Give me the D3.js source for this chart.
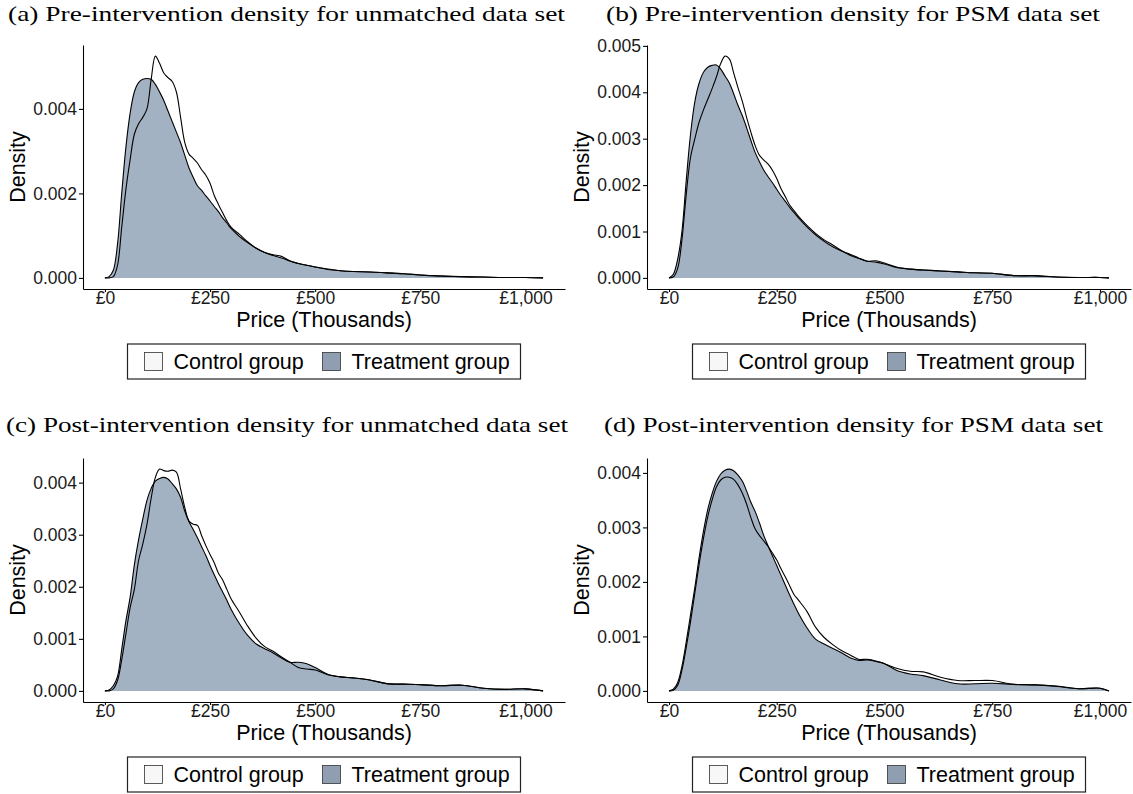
<!DOCTYPE html>
<html>
<head>
<meta charset="utf-8">
<script src="https://cdn.jsdelivr.net/npm/d3@7"></script>
<style>
  body { margin: 0; background: #fff; }
  .tick text { font-family: "Liberation Sans", Arial, sans-serif; font-size: 17.5px; fill: #1a1a1a; }
  .tick line, .domain { stroke: #000; stroke-width: 1.07; }
  .axis-title, .legend-label { font-family: "Liberation Sans", Arial, sans-serif; font-size: 21.5px; fill: #000; }
  .panel-title { font-family: "Liberation Serif", "Times New Roman", serif; font-size: 21px; fill: #000; }
</style>
</head>
<body>
<svg width="1133" height="794"></svg>
<script>
// price grid in thousands of pounds, shared by every density curve
const priceGrid = [0,10,20,30,40,50,60,70,80,90,100,110,120,130,140,150,160,170,180,190,
  200,210,220,230,240,250,260,270,280,290,300,320,340,360,380,400,420,440,460,480,500,
  530,560,590,630,670,710,750,800,850,900,950,1000]
// price where each panel's curves come back to zero
const curveEnd = [1042, 1021, 1042, 1021]

const panelTitles = [
  '(a) Pre-intervention density for unmatched data set',
  '(b) Pre-intervention density for PSM data set',
  '(c) Post-intervention density for unmatched data set',
  '(d) Post-intervention density for PSM data set'
]
const groupNames = ['Control group', 'Treatment group']
const xTicks = [0, 250, 500, 750, 1000]
const yTicksA = [0, 0.002, 0.004]
const yTicksB = [0, 0.001, 0.002, 0.003, 0.004, 0.005]
const yTicksC = [0, 0.001, 0.002, 0.003, 0.004]
const yTicksD = [0, 0.001, 0.002, 0.003, 0.004]

const preUnmatchedControl = [0,0,0.00003,0.0003,0.0012,0.0021,0.0028,0.0034,0.00365,0.0038,
  0.004,0.0047,0.00525,0.00508,0.00485,0.00474,0.00465,0.0044,0.0038,0.0032,
  0.00293,0.00283,0.00272,0.00256,0.00243,0.00224,0.00195,0.00174,0.00154,0.00135,
  0.0012,0.00103,0.00085,0.0007,0.0006,0.00055,0.00051,0.0004,0.00034,0.0003,0.00026,
  0.00021,0.00017,0.00015,0.00014,0.00012,0.0001,0.00007,0.00004,0.00003,0.00002,0.00001,0.00001]
const preUnmatchedTreatment = [0,0.00003,0.00018,0.0008,0.002,0.0031,0.0039,0.0044,0.00462,0.0047,
  0.00472,0.0047,0.00458,0.0044,0.0042,0.00395,0.0037,0.00345,0.0032,0.0029,
  0.0026,0.00238,0.00218,0.00207,0.00194,0.00182,0.00169,0.00157,0.00142,0.0013,
  0.00117,0.00098,0.00083,0.0007,0.0006,0.00053,0.00047,0.0004,0.00034,0.0003,0.00026,
  0.0002,0.00017,0.00015,0.00014,0.00012,0.0001,0.00007,0.00005,0.00003,0.00002,0.00001,0.00001]

const prePsmControl = [0,0.00002,0.0002,0.00082,0.0018,0.0026,0.003,0.00336,0.00362,0.00385,
  0.00408,0.00433,0.00462,0.00478,0.00472,0.00442,0.0041,0.00381,0.00346,0.00314,
  0.00285,0.00264,0.00254,0.00245,0.00232,0.00214,0.00192,0.00175,0.00157,0.00145,
  0.00133,0.00113,0.00096,0.00082,0.00071,0.00059,0.00049,0.00042,0.00036,0.00037,0.00032,
  0.00023,0.00019,0.00017,0.00015,0.00013,0.00011,0.0001,0.00005,0.00004,0.00002,0.00001,0.00001]
const prePsmTreatment = [0,0.00008,0.0004,0.001,0.0021,0.0031,0.0038,0.0042,0.00443,0.00454,
  0.00458,0.00459,0.0045,0.00435,0.0042,0.00397,0.00372,0.0035,0.00324,0.00296,
  0.0027,0.0025,0.00232,0.00218,0.00205,0.00191,0.00177,0.00165,0.00152,0.00141,
  0.0013,0.0011,0.00093,0.00079,0.00067,0.00058,0.00051,0.00043,0.00036,0.00034,0.0003,
  0.00022,0.00019,0.00017,0.00015,0.00013,0.00011,0.0001,0.00005,0.00005,0.00002,0.00001,0.00001]

const postUnmatchedControl = [0,0,0.00004,0.0002,0.0006,0.0011,0.0016,0.00195,0.0025,0.00282,
  0.0032,0.0037,0.0041,0.00426,0.00423,0.00422,0.00424,0.0042,0.00388,0.00352,
  0.00326,0.0032,0.00318,0.00298,0.00279,0.00262,0.00246,0.00226,0.00213,0.00195,
  0.00177,0.00151,0.00124,0.00101,0.00085,0.00076,0.00065,0.00055,0.00045,0.00042,0.0004,
  0.00031,0.00027,0.00025,0.00021,0.00014,0.00013,0.00012,0.0001,0.00011,0.00005,0.00003,0.00004]
const postUnmatchedTreatment = [0,0.00002,0.0001,0.00028,0.0008,0.00135,0.0018,0.00242,0.0029,0.0033,
  0.00366,0.00389,0.00403,0.00408,0.0041,0.00407,0.00398,0.00388,0.00372,0.00345,
  0.00325,0.0031,0.00294,0.00277,0.0026,0.00241,0.00223,0.00206,0.0019,0.00174,
  0.00157,0.00129,0.00106,0.0009,0.00081,0.00073,0.00063,0.00055,0.00055,0.00052,0.00045,
  0.00032,0.00027,0.00025,0.00021,0.00014,0.00013,0.00012,0.0001,0.00011,0.00005,0.00003,0.00004]

const postPsmControl = [0,0.00001,0.0001,0.00038,0.0008,0.00127,0.0018,0.00233,0.0028,0.0032,
  0.0035,0.00374,0.00387,0.00392,0.00392,0.00388,0.00378,0.00363,0.00343,0.00318,
  0.00297,0.00285,0.00275,0.00265,0.00253,0.0024,0.00224,0.00209,0.00193,0.00177,
  0.00167,0.00146,0.00117,0.00098,0.00085,0.00074,0.00066,0.00058,0.00058,0.00055,0.0005,
  0.00041,0.00036,0.00035,0.00025,0.00019,0.00019,0.00019,0.00012,0.00011,0.00009,0.00004,0.00005]
const postPsmTreatment = [0,0.00003,0.00015,0.00045,0.0009,0.0014,0.0019,0.00245,0.00293,0.00333,
  0.00362,0.00384,0.00398,0.00405,0.00407,0.00404,0.00396,0.00385,0.00367,0.00346,
  0.00329,0.00308,0.00285,0.00266,0.00248,0.0023,0.00212,0.00194,0.00176,0.00159,
  0.00143,0.00116,0.00095,0.00086,0.00078,0.0007,0.00061,0.00056,0.00057,0.00054,0.0005,
  0.00037,0.00031,0.00028,0.0002,0.00013,0.00013,0.00014,0.00012,0.00011,0.00008,0.00004,0.00005]

const controlSeries = [preUnmatchedControl, prePsmControl, postUnmatchedControl, postPsmControl]
const treatmentSeries = [preUnmatchedTreatment, prePsmTreatment, postUnmatchedTreatment, postPsmTreatment]
const yTickSets = [yTicksA, yTicksB, yTicksC, yTicksD]

// layout of the 2x2 grid (plot area of each panel)
const boxes = [
  { left: 83, top: 45, width: 482, height: 244, titleX: 8, titleY: 21, titleW: 557 },
  { left: 647, top: 45, width: 484, height: 244, titleX: 606, titleY: 21, titleW: 494 },
  { left: 83, top: 458, width: 482, height: 244, titleX: 6, titleY: 432, titleW: 562 },
  { left: 647, top: 458, width: 484, height: 244, titleX: 604, titleY: 432, titleW: 499 }
]

const treatFill = '#a3b2c2'
const svg = d3.select('svg')

const toPoints = (series, end) =>
  priceGrid.map((p, i) => [p, series[i]]).concat([[end, 0]])

boxes.forEach((b, i) => {
  const control = toPoints(controlSeries[i], curveEnd[i])
  const treat = toPoints(treatmentSeries[i], curveEnd[i])
  const xMax = curveEnd[i]
  const yMax = d3.max(control.concat(treat), d => d[1])

  const x = d3.scaleLinear()
    .domain([-0.05 * xMax, 1.05 * xMax])
    .range([0, b.width])
  const y = d3.scaleLinear()
    .domain([-0.05 * yMax, 1.05 * yMax])
    .range([b.height, 0])

  svg.append('text')
    .attr('class', 'panel-title')
    .attr('x', b.titleX)
    .attr('y', b.titleY)
    .attr('textLength', b.titleW)
    .attr('lengthAdjust', 'spacingAndGlyphs')
    .text(panelTitles[i])

  const g = svg.append('g')
    .attr('transform', `translate(${b.left},${b.top})`)

  const curve = d3.curveCatmullRom.alpha(0.5)
  const area = d3.area()
    .x(d => x(d[0]))
    .y0(y(0))
    .y1(d => y(Math.max(0, d[1])))
    .curve(curve)
  const line = d3.line()
    .x(d => x(d[0]))
    .y(d => y(d[1]))
    .curve(curve)

  g.append('path').attr('d', area(control)).attr('fill', '#ffffff')
  g.append('path').attr('d', area(treat)).attr('fill', treatFill)
  g.append('path').attr('d', line(control))
    .attr('fill', 'none').attr('stroke', '#000').attr('stroke-width', 1.1)
  g.append('path').attr('d', line(treat))
    .attr('fill', 'none').attr('stroke', '#000').attr('stroke-width', 1.1)

  g.append('g')
    .attr('transform', `translate(0,${b.height})`)
    .call(d3.axisBottom(x)
      .tickValues(xTicks)
      .tickFormat(d => '£' + d3.format(',')(d))
      .tickSize(3)
      .tickSizeOuter(0)
      .tickPadding(0))

  g.append('g')
    .call(d3.axisLeft(y)
      .tickValues(yTickSets[i])
      .tickFormat(d3.format('.3f'))
      .tickSize(4)
      .tickSizeOuter(0)
      .tickPadding(2))

  g.append('text')
    .attr('class', 'axis-title')
    .attr('text-anchor', 'middle')
    .attr('x', b.width / 2)
    .attr('y', b.height + 38)
    .text('Price (Thousands)')

  g.append('text')
    .attr('class', 'axis-title')
    .attr('text-anchor', 'middle')
    .attr('transform', `translate(-58,${b.height / 2}) rotate(-90)`)
    .text('Density')

  // legend under the panel
  const lg = g.append('g')
    .attr('transform', `translate(${b.width / 2 - 196.5},${b.height + 55})`)
  lg.append('rect')
    .attr('width', 393).attr('height', 35)
    .attr('fill', '#fff').attr('stroke', '#222').attr('stroke-width', 1.2)
  const keyX = [17, 195]
  const keyFill = ['#f7f7f7', '#8f9eb0']
  groupNames.forEach((name, k) => {
    lg.append('rect')
      .attr('x', keyX[k]).attr('y', 8.5)
      .attr('width', 18).attr('height', 18)
      .attr('fill', keyFill[k]).attr('stroke', '#333').attr('stroke-width', 0.8)
    lg.append('text')
      .attr('class', 'legend-label')
      .attr('x', keyX[k] + 29)
      .attr('y', 25)
      .text(name)
  })
})
</script>
</body>
</html>
